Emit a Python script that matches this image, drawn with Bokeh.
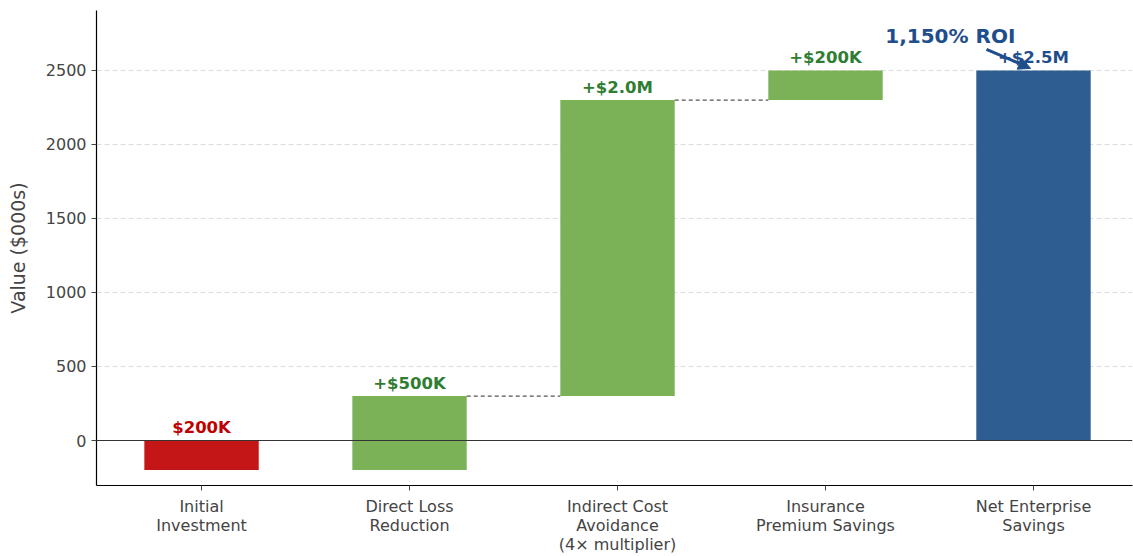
from bokeh.plotting import figure
from bokeh.models import FixedTicker, Range1d, Span, Arrow, NormalHead, ColumnDataSource
from bokeh.core.properties import value
from bokeh.embed import file_html
from bokeh.resources import INLINE

categories = ["Initial\nInvestment", "Direct Loss\nReduction",
              "Indirect Cost\nAvoidance\n(4\u00d7 multiplier)",
              "Insurance\nPremium Savings", "Net Enterprise\nSavings"]
changes = [-200, 500, 2000, 200, 2500]
labels = ["$200K", "+$500K", "+$2.0M", "+$200K", "+$2.5M"]
kinds = ["cost", "gain", "gain", "gain", "total"]
roi_text = "1,150% ROI"
yticks = [0, 500, 1000, 1500, 2000, 2500]

FONT = "DejaVu Sans"
bar_colors = {"cost": "#c41616", "gain": "#7cb257", "total": "#2e5d91"}
text_colors = {"cost": "#c00000", "gain": "#2e7d32", "total": "#1f4e8c"}

xs = list(range(len(categories)))
bottoms, tops = [], []
running = 0
for ch, k in zip(changes, kinds):
    if k == "total":
        bottoms.append(0)
        tops.append(ch)
        running = ch
    else:
        b = running
        running = running + ch
        bottoms.append(min(b, running))
        tops.append(max(b, running))

p = figure(width=1133, height=556, output_backend="svg", toolbar_location=None,
           x_range=Range1d(-0.505, 4.476), y_range=Range1d(-304, 2905),
           min_border_left=96, min_border_right=1, min_border_top=10, min_border_bottom=71)
p.outline_line_color = None
p.background_fill_color = "white"

src = ColumnDataSource(dict(x=xs, bottom=bottoms, top=tops,
                            color=[bar_colors[k] for k in kinds]))
p.vbar(x="x", bottom="bottom", top="top", width=0.55, color="color", source=src, line_color=None)

# connectors
cx0, cx1, cy = [], [], []
for i in [1, 2]:
    cx0.append(xs[i] + 0.275)
    cx1.append(xs[i + 1] - 0.275)
    cy.append(tops[i])
p.segment(x0=cx0, y0=cy, x1=cx1, y1=cy, line_color="#555555", line_width=1.2, line_dash="4 3")

p.add_layout(Span(location=0, dimension="width", line_color="#333333", line_width=1.2))

# value labels
off = 88
ly = [t + off for t in tops]
p.text(x=xs, y=ly, text=labels, text_color=[text_colors[k] for k in kinds],
       text_font=value(FONT), text_font_style="bold", text_font_size="16.5px",
       text_align="center", text_baseline="middle")

# ROI annotation
p.text(x=[3.6], y=[2736], text=[roi_text], text_color="#1f4e8c", text_font=value(FONT),
       text_font_style="bold", text_font_size="20px", text_align="center", text_baseline="middle")
p.add_layout(Arrow(x_start=3.774, y_start=2642, x_end=3.986, y_end=2514,
                   line_color="#1f4e8c", line_width=3,
                   end=NormalHead(size=12, fill_color="#1f4e8c", line_color="#1f4e8c")))

# axes
p.xaxis.ticker = FixedTicker(ticks=xs)
p.xaxis.major_label_overrides = {i: c for i, c in zip(xs, categories)}
p.yaxis.ticker = FixedTicker(ticks=yticks)
for ax in [p.xaxis[0], p.yaxis[0]]:
    ax.major_label_text_font = FONT
    ax.major_label_text_font_size = "16px"
    ax.major_label_text_color = "#444444"
    ax.axis_line_color = "black"
    ax.axis_line_width = 1.2
    ax.major_tick_line_color = "#444444"
    ax.major_tick_out = 5
    ax.major_tick_in = 0
    ax.minor_tick_line_color = None
p.xaxis.major_label_text_line_height = 1.0
p.yaxis.axis_label = "Value ($000s)"
p.yaxis.axis_label_text_font = FONT
p.yaxis.axis_label_text_font_size = "19px"
p.yaxis.axis_label_text_font_style = "normal"
p.yaxis.axis_label_text_color = "#444444"
p.yaxis.axis_label_standoff = 14
p.xaxis.major_label_standoff = 6

p.xgrid.grid_line_color = None
p.ygrid.ticker = FixedTicker(ticks=yticks[1:])
p.ygrid.grid_line_color = "#dddddd"
p.ygrid.grid_line_dash = "5 3"
p.ygrid.grid_line_width = 1

open("out.html", "w").write(file_html(p, INLINE))
